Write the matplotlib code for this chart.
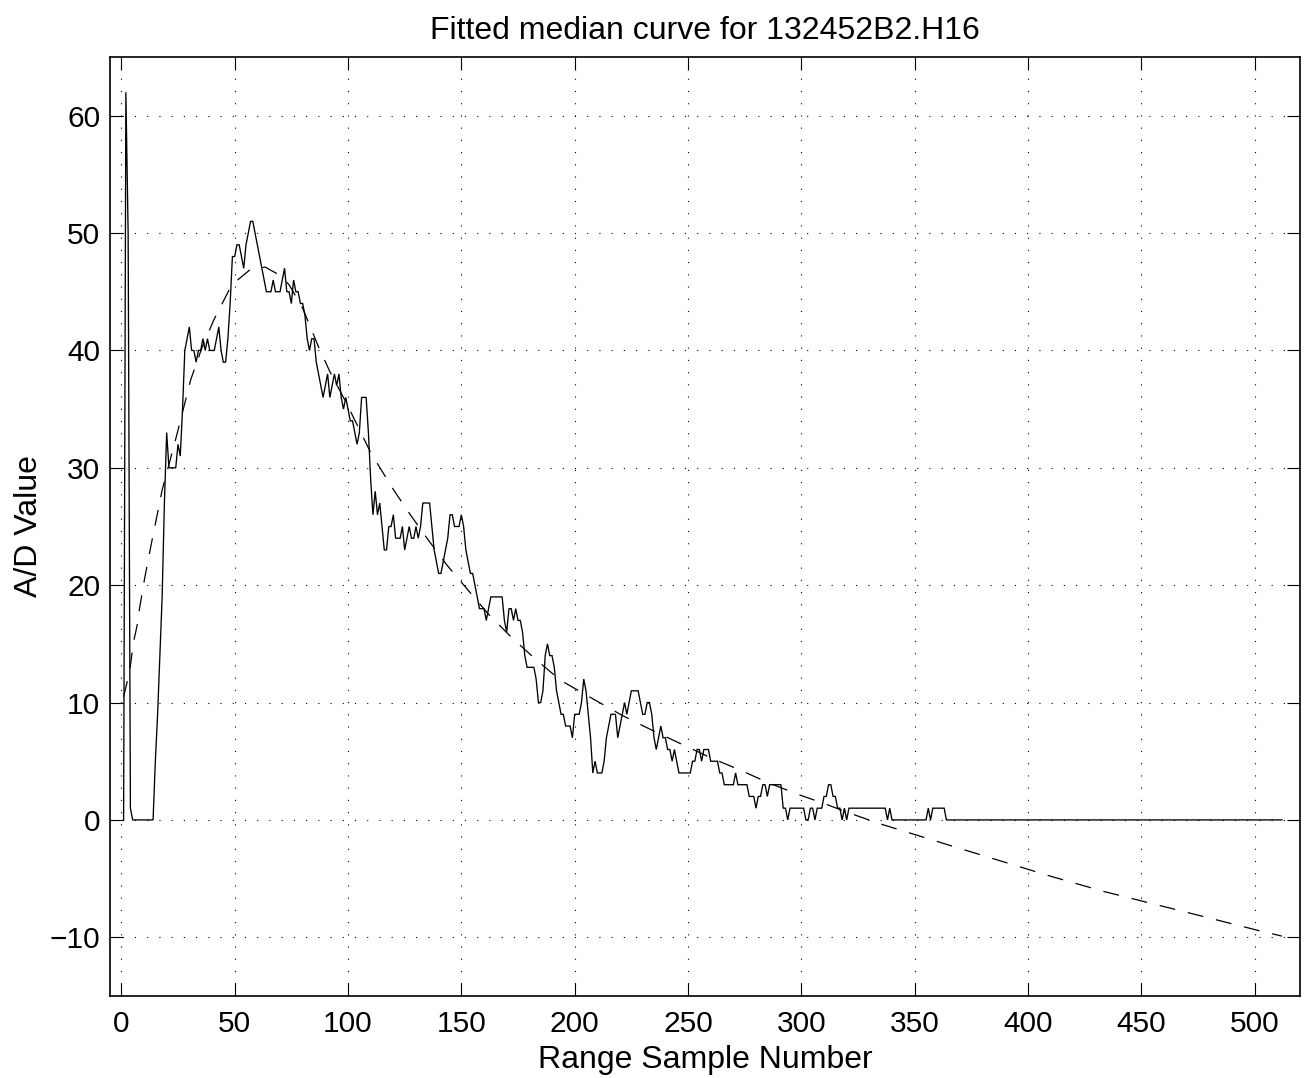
import matplotlib
matplotlib.use("Agg")
import matplotlib.pyplot as plt

# ---- data ----
# Raw A/D values, one per range sample (samples 1..370), then zero to 512
sample_values = [
    0, 62, 50, 1, 0, 0, 0, 0, 0, 0,            # 1-10
    0, 0, 0, 0, 5, 9, 14, 19, 27, 33,          # 11-20
    30, 30, 30, 30, 32, 31, 35, 40, 41, 42,    # 21-30
    40, 40, 39, 40, 40, 41, 40, 41, 40, 40,    # 31-40
    40, 41, 42, 40, 39, 39, 41, 44, 48, 48,    # 41-50
    49, 49, 48, 47, 49, 50, 51, 51, 50, 49,    # 51-60
    48, 47, 46, 45, 45, 45, 46, 45, 45, 45,    # 61-70
    46, 47, 45, 45, 44, 46, 45, 45, 44, 44,    # 71-80
    43, 41, 40, 41, 41, 39, 38, 37, 36, 37,    # 81-90
    38, 36, 37, 38, 37, 38, 36, 35, 36, 35,    # 91-100
    34, 34, 33, 32, 33, 36, 36, 36, 33, 29,    # 101-110
    26, 28, 26, 27, 25, 23, 23, 25, 25, 26,    # 111-120
    24, 24, 24, 25, 23, 24, 25, 24, 24, 25,    # 121-130
    24, 25, 27, 27, 27, 27, 25, 23, 22, 21,    # 131-140
    21, 22, 23, 24, 26, 26, 25, 25, 25, 26,    # 141-150
    25, 23, 22, 21, 21, 20, 19, 18, 18, 18,    # 151-160
    17, 18, 19, 19, 19, 19, 19, 19, 17, 16,    # 161-170
    18, 18, 17, 18, 17, 17, 16, 14, 13, 13,    # 171-180
    13, 13, 12, 10, 10, 11, 14, 15, 14, 14,    # 181-190
    13, 11, 10, 9, 9, 8, 8, 8, 7, 9,           # 191-200
    9, 9, 10, 12, 11, 9, 7, 4, 5, 4,           # 201-210
    4, 4, 5, 7, 8, 9, 9, 9, 7, 8,              # 211-220
    9, 10, 9, 10, 11, 11, 11, 11, 10, 9,       # 221-230
    9, 10, 10, 9, 7, 6, 7, 8, 7, 7,            # 231-240
    6, 6, 5, 6, 5, 4, 4, 4, 4, 4,              # 241-250
    4, 5, 5, 6, 6, 5, 6, 6, 6, 5,              # 251-260
    5, 5, 5, 4, 4, 3, 3, 3, 3, 3,              # 261-270
    4, 3, 3, 3, 3, 3, 2, 2, 2, 1,              # 271-280
    2, 2, 3, 3, 2, 3, 3, 3, 3, 3,              # 281-290
    3, 1, 1, 0, 1, 1, 1, 1, 1, 1,              # 291-300
    1, 0, 0, 1, 1, 0, 1, 1, 1, 2,              # 301-310
    2, 3, 3, 2, 2, 1, 1, 0, 1, 0,              # 311-320
    1, 1, 1, 1, 1, 1, 1, 1, 1, 1,              # 321-330
    1, 1, 1, 1, 1, 1, 1, 0, 1, 0,              # 331-340
    0, 0, 0, 0, 0, 0, 0, 0, 0, 0,              # 341-350
    0, 0, 0, 0, 0, 1, 0, 1, 1, 1,              # 351-360
    1, 1, 1, 0, 0, 0, 0, 0, 0, 0,              # 361-370
]
sample_numbers = list(range(1, len(sample_values) + 1)) + [512]
sample_values = sample_values + [0]

# Fitted median curve (dashed), read at points along the curve
fit_x = [1, 2, 3.7, 5.4, 6.9, 8.1, 10.3, 13, 18, 24.6, 30.6, 35.5, 40.8,
         47.4, 51.3, 56.9, 63.5, 70, 74, 80, 87, 92, 99.6, 110, 119.5,
         127.5, 135.6, 143.7, 153.3, 162.1, 172.4, 182.7, 193.7, 205.5,
         221, 233.5, 246.7, 259.9, 272.4, 285, 298.2, 311.4, 320.2, 334.2,
         366, 388, 410, 433.5, 454.1, 474.7, 501.2, 512]
fit_y = [10.5, 11.3, 12.7, 15.2, 16.5, 18.1, 20.6, 23.3, 28.1, 32.9, 37.5,
         40.2, 42.6, 45.1, 46.0, 46.9, 47.1, 46.4, 45.6, 43.6, 40.3, 38.2,
         35.4, 31.3, 28.3, 26.0, 23.8, 21.7, 19.5, 17.5, 15.5, 13.7, 11.9,
         10.6, 8.9, 7.7, 6.5, 5.3, 4.3, 3.2, 2.2, 1.3, 0.65, -0.3, -2.2,
         -3.5, -4.8, -6.1, -7.1, -8.1, -9.4, -9.9]

x_ticks = [0, 50, 100, 150, 200, 250, 300, 350, 400, 450, 500]
y_ticks = [-10, 0, 10, 20, 30, 40, 50, 60]
title_text = "Fitted median curve for 132452B2.H16"
x_label = "Range Sample Number"
y_label = "A/D Value"

# ---- figure ----
plt.rcParams['font.family'] = ['Liberation Sans', 'DejaVu Sans']
fig = plt.figure(figsize=(13.08, 10.78), dpi=100)
ax = fig.add_axes([0.0841, 0.0761, 0.9098, 0.8710])

ax.plot(sample_numbers, sample_values, color='k', lw=0.95, solid_joinstyle='miter')
ax.plot(fit_x, fit_y, color='k', lw=0.9, dashes=(12.8, 10.4))

ax.set_xlim(-5, 520)
ax.set_ylim(-15, 65)
ax.set_xticks(x_ticks)
ax.set_yticks(y_ticks)
ax.tick_params(direction='in', length=9.5, width=0.8, labelsize=21.5,
               top=True, right=True, color='k')
ax.tick_params(axis='x', pad=10)
ax.tick_params(axis='y', pad=7)
ax.grid(True, color='k', lw=0.8, linestyle=(0, (1, 10)))
for s in ax.spines.values():
    s.set_linewidth(1.2)

ax.set_title(title_text, fontsize=23, pad=13)
ax.set_xlabel(x_label, fontsize=23, labelpad=5)
ax.set_ylabel(y_label, fontsize=23, labelpad=4)

fig.savefig("out.png", dpi=100)
